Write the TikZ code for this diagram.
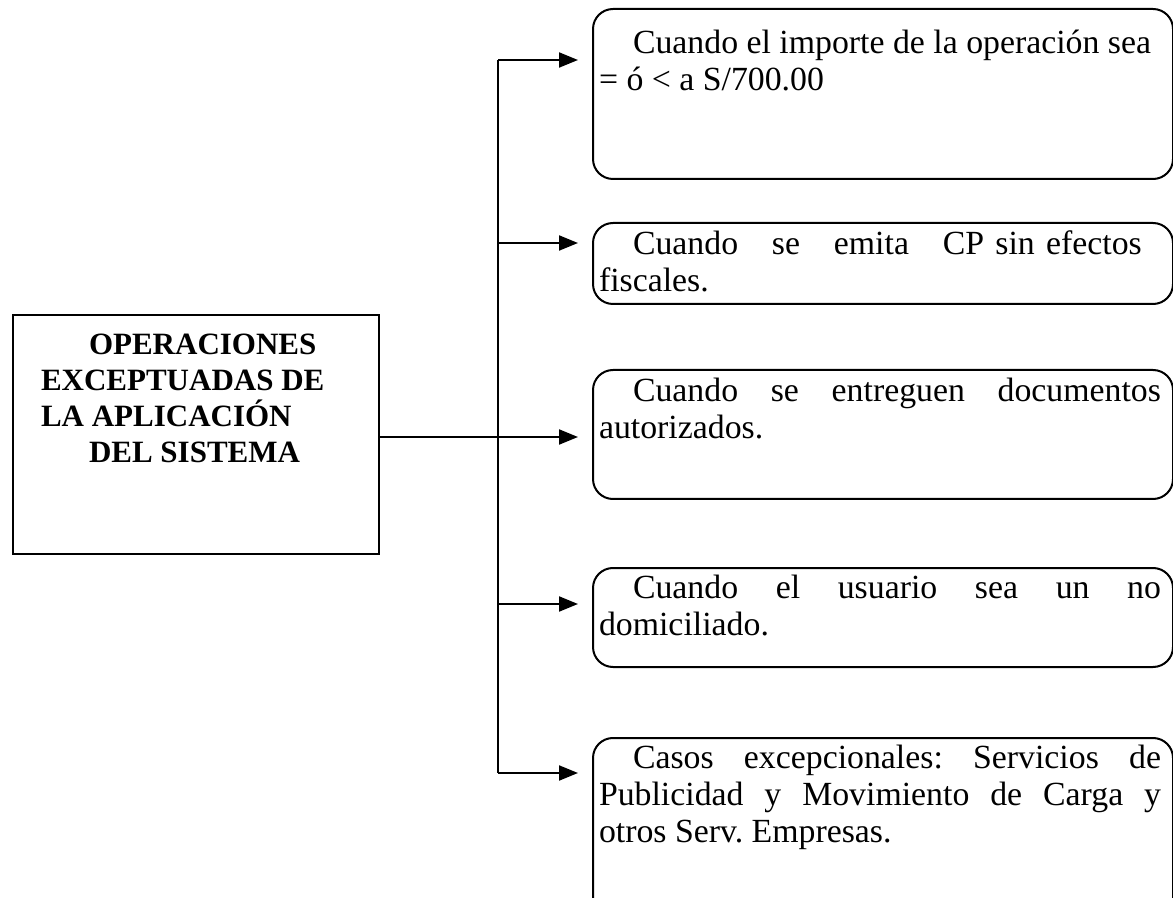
\documentclass[tikz,border=0pt]{standalone}
\usepackage{fontspec}
\setmainfont{Liberation Serif}
\usetikzlibrary{arrows.meta}
\frenchspacing

\begin{document}
\begin{tikzpicture}[x=0.5pt,y=-0.5pt,line width=1pt,>={Triangle[length=9.5pt,width=7.5pt]}]
  \useasboundingbox (0,0) rectangle (1173,898);

          % cajas de los casos
          \begin{scope}[every node/.style={draw, rounded corners=10pt, anchor=north west, minimum width=290pt, inner sep=0pt}]
            \node[minimum height=85pt]   (1) at (592,8)   {};
            \node[minimum height=40.5pt] (2) at (592,222) {};
            \node[minimum height=64.5pt] (3) at (592,369) {};
            \node[minimum height=49.5pt] (4) at (592,567) {};
            \node[minimum height=92pt]   (5) at (592,737) {};
          \end{scope}

          \node[draw, anchor=north west, minimum width=183pt, minimum height=119.5pt, inner sep=0pt] (0) at (12,314) {};

          % textos
          \node[anchor=north west, inner sep=0pt, align=left, font=\fontsize{15.5}{18}\selectfont\bfseries] (t0) at (40,333)
            {\hspace*{24pt}OPERACIONES\\EXCEPTUADAS DE\\LA APLICACIÓN\\\hspace*{24pt}DEL SISTEMA};

          \begin{scope}[every node/.style={anchor=north west, inner sep=0pt, text width=281pt, align=justify, font=\fontsize{16.9}{18.5}\selectfont}]
            \node (t1) at (598,29)  {\hspace*{17pt}Cuando el importe de la operación sea\\= ó < a S/700.00};
            \node[align=left] (t2) at (598,230) {\hspace*{17pt}Cuando\hspace{1em}se\hspace{1em}emita\hspace{1em}CP sin efectos\\fiscales.};
            \node (t3) at (598,377) {\hspace*{17pt}Cuando se entreguen documentos\linebreak autorizados.};
            \node (t4) at (598,574) {\hspace*{17pt}Cuando el usuario sea un no\linebreak domiciliado.};
            \node (t5) at (598,744) {\hspace*{17pt}Casos excepcionales: Servicios de\linebreak Publicidad y Movimiento de Carga y\linebreak otros Serv. Empresas.};
          \end{scope}

          % conectores
          \coordinate (j1) at (498,60);
          \coordinate (j2) at (498,243);
          \coordinate (j4) at (498,604);
          \coordinate (j5) at (498,773);
          \coordinate (e1) at (578,60);
          \coordinate (e2) at (578,243);
          \coordinate (e3) at (578,437);
          \coordinate (e4) at (578,604);
          \coordinate (e5) at (578,773);

          \draw (j1) -- (j5);
          \begin{scope}[every edge/.style={draw,->}]
            \path (0.east |- e3) edge (e3);
            \path (j1) edge (e1);
            \path (j2) edge (e2);
            \path (j4) edge (e4);
            \path (j5) edge (e5);
          \end{scope}

        \end{tikzpicture}
\end{document}
